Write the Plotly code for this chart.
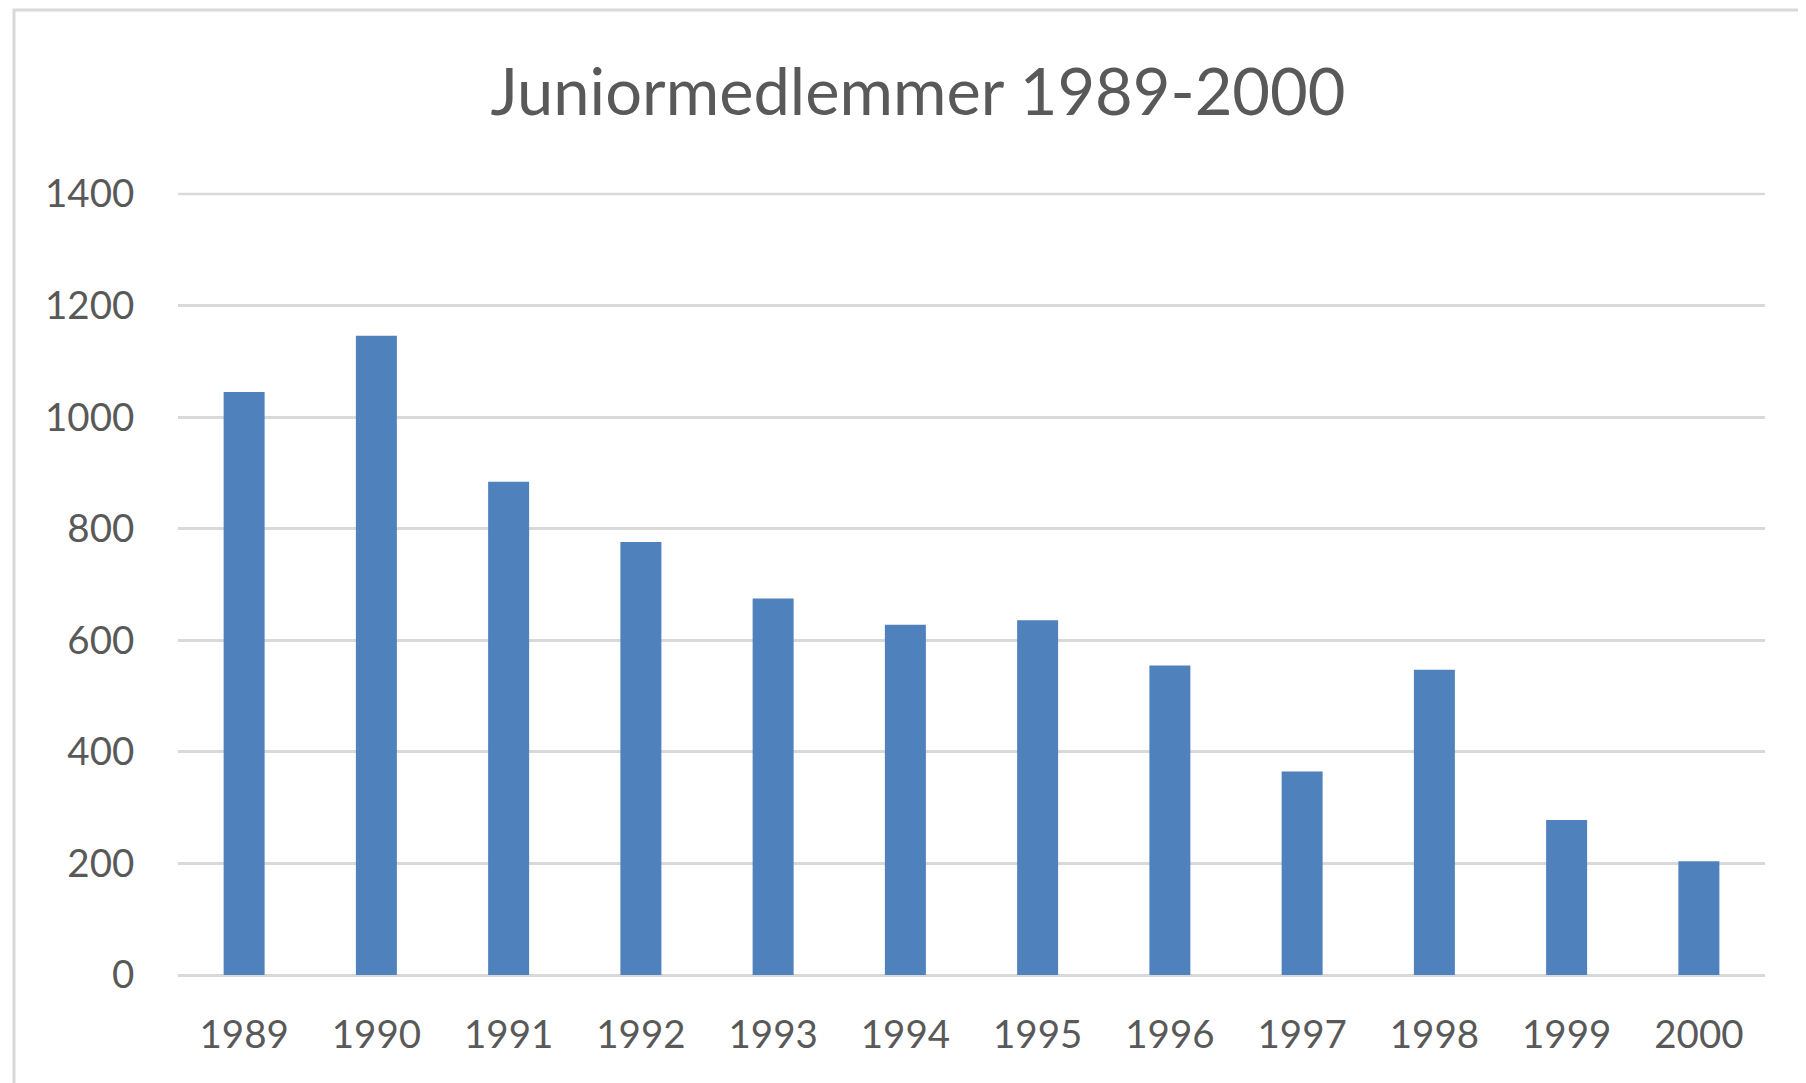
import plotly.graph_objects as go

years = ["1989", "1990", "1991", "1992", "1993", "1994", "1995", "1996", "1997", "1998", "1999", "2000"]
members = [1045, 1146, 884, 776, 675, 628, 636, 555, 365, 547, 278, 204]
y_ticks = [0, 200, 400, 600, 800, 1000, 1200, 1400]
title_text = "Juniormedlemmer 1989-2000"

W, H = 1806, 1083
OFF = 8  # page body margin
L, R, T, B = 170, 49, 186, 116

fig = go.Figure()
fig.add_trace(go.Bar(
    x=years, y=members,
    marker=dict(color="#4f81bd", line=dict(width=0)),
    width=0.31,
))

font = dict(family="Lato, Carlito, 'Open Sans', sans-serif", color="#595959")

pw = W - L - R
ph = H - T - B
grid_color = "#d9d9d9"
y_max = y_ticks[-1]
fig.update_layout(
    width=W, height=H,
    margin=dict(l=L, r=R, t=T, b=B, pad=0),
    paper_bgcolor="white", plot_bgcolor="white",
    showlegend=False,
    title=dict(text=title_text, x=(918 - OFF) / W, xref="container", xanchor="center",
               y=1 - (92 - OFF) / H, yref="container", yanchor="middle",
               font=dict(size=65, **font)),
    xaxis=dict(type="category", showgrid=False, showline=False, zeroline=False,
               ticks="outside", ticklen=26, tickcolor="rgba(0,0,0,0)",
               tickfont=dict(size=38.5, **font)),
    yaxis=dict(range=[0, y_max], tickvals=y_ticks, showgrid=True, gridcolor=grid_color,
               gridwidth=2.5, zeroline=True, zerolinecolor=grid_color, zerolinewidth=2.5,
               showline=False, ticks="outside", ticklen=35, tickcolor="rgba(0,0,0,0)",
               tickfont=dict(size=38.5, **font)),
    shapes=[
        dict(type="rect", xref="paper", yref="paper",
             x0=(14 - OFF - L) / pw, x1=1.2, y0=-0.3, y1=(H - B - (10 - OFF)) / ph,
             line=dict(color=grid_color, width=3), fillcolor="rgba(0,0,0,0)", layer="below"),
        # top gridline (at the upper end of the y range)
        dict(type="line", xref="paper", yref="paper", x0=0, x1=1, y0=1, y1=1,
             line=dict(color=grid_color, width=2.5), layer="below"),
    ],
)

fig.write_html("out.html")
